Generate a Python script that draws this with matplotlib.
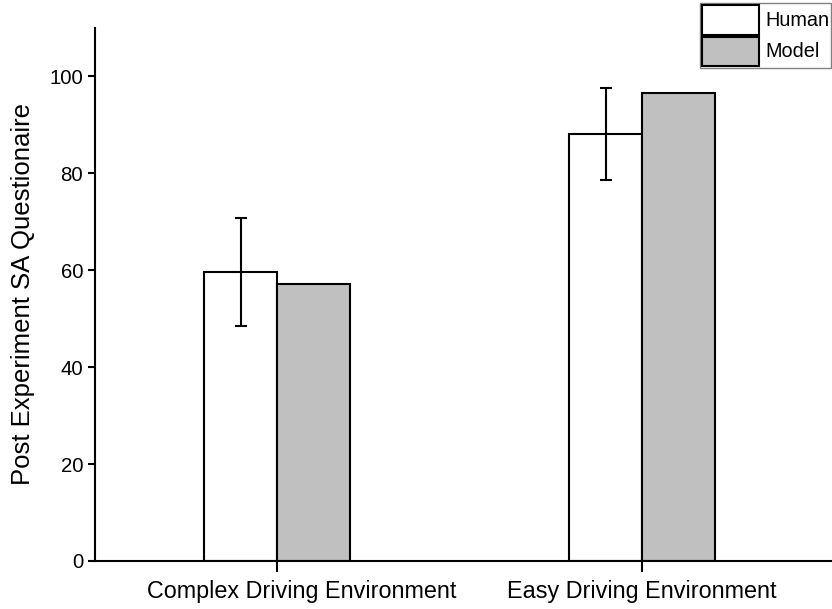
import numpy as np
import matplotlib.pyplot as plt
import matplotlib.transforms as mtransforms
from matplotlib.patches import Patch

plt.rcParams['font.family'] = ['Liberation Sans', 'DejaVu Sans']

# data
categories = ['Complex Driving Environment', 'Easy Driving Environment']
human = [59.6, 88.2]
human_err = [11.1, 9.5]
model = [57.1, 96.5]

x = np.array([1, 2])
width = 0.2

fig = plt.figure(figsize=(8.32, 6.09), dpi=100)
ax = fig.add_axes([0.114, 0.079, 0.886, 0.875])

ax.bar(x - width / 2, human, width, color='white', edgecolor='black', linewidth=1.5,
       yerr=human_err, error_kw=dict(ecolor='black', elinewidth=1.5, capsize=4, capthick=1.5))
ax.bar(x + width / 2, model, width, color='#c0c0c0', edgecolor='black', linewidth=1.5)

ax.set_xlim(0.5, 2.52)
ax.set_ylim(0, 110)
ax.set_xticks(x)
ax.set_xticklabels(categories, fontsize=16.8)
ax.set_yticks([0, 20, 40, 60, 80, 100])
ax.tick_params(axis='y', labelsize=14.7, width=1.5, length=5, direction='out')
ax.tick_params(axis='x', width=1.5, length=8, direction='out', pad=6)
ax.set_ylabel('Post Experiment SA Questionaire', fontsize=18.5, labelpad=10)

# first label sits a bit right of its tick in the original
lbl = ax.get_xticklabels()[0]
lbl.set_transform(lbl.get_transform() + mtransforms.ScaledTranslation(0.24, 0, fig.dpi_scale_trans))

for s in ['top', 'right']:
    ax.spines[s].set_visible(False)
for s in ['left', 'bottom']:
    ax.spines[s].set_linewidth(1.5)

handles = [Patch(facecolor='white', edgecolor='black', linewidth=1.5, label='Human'),
           Patch(facecolor='#c0c0c0', edgecolor='black', linewidth=1.5, label='Model')]
leg = fig.legend(handles=handles, loc='upper left', bbox_to_anchor=(0.8405, 0.995),
                 fontsize=14.3, handlelength=2.85, handleheight=1.88, labelspacing=0.1,
                 borderpad=0.12, borderaxespad=0, handletextpad=0.3, fancybox=False,
                 framealpha=1)
leg.get_frame().set_edgecolor('#808080')
leg.get_frame().set_linewidth(1.0)

fig.canvas.draw()
bb = leg.get_window_extent()
# shift legend so its frame starts at x=700 px
dx = (700 - bb.x0) / fig.bbox.width
leg.set_bbox_to_anchor((0.8405 + dx, 0.995), transform=fig.transFigure)

fig.savefig('out.png', dpi=100)
